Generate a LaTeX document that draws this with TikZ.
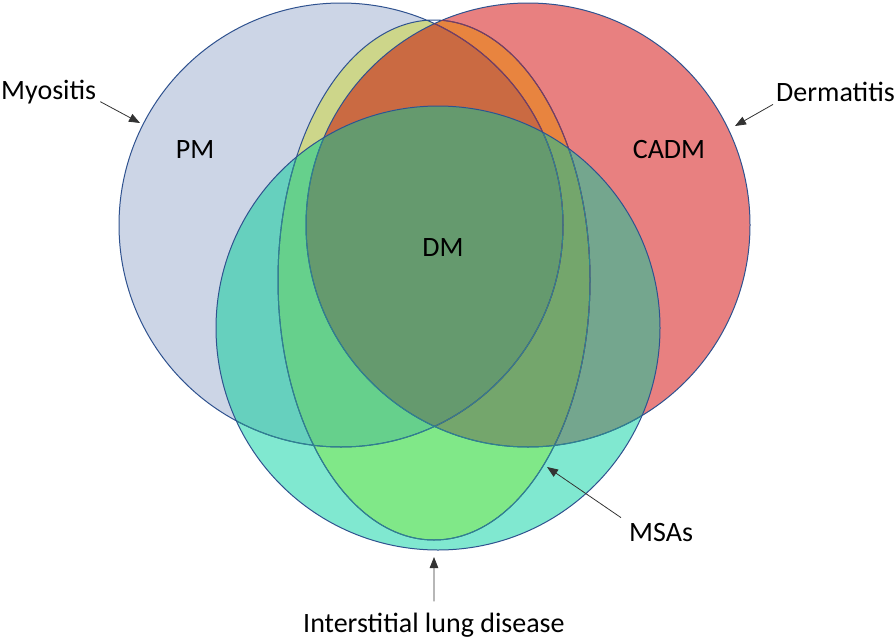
\documentclass[tikz,border=0pt]{standalone}
\usepackage{fontspec}
\setmainfont{Carlito}
\usetikzlibrary{arrows.meta,calc}

\definecolor{rimblue}{HTML}{2F528F}
\definecolor{rimteal}{HTML}{2E8390}
\definecolor{rimwine}{HTML}{7E3A5C}
% single sets
\definecolor{myoc}{HTML}{CCD5E6}
\definecolor{derc}{HTML}{E88080}
\definecolor{ildc}{HTML}{80E8D0}
% overlaps
\definecolor{msamyoc}{HTML}{CDD68A}
\definecolor{msaderc}{HTML}{E8843F}
\definecolor{msamyoderc}{HTML}{CA6A42}
\definecolor{ildmyoc}{HTML}{66D0BE}
\definecolor{ildderc}{HTML}{74A68E}
\definecolor{ildmsac}{HTML}{80E888}
\definecolor{ildmyomsac}{HTML}{66D08C}
\definecolor{ilddermsac}{HTML}{74A66C}
\definecolor{allc}{HTML}{659A6E}

\newcommand{\myopath}{(341,225) circle[radius=222]}
\newcommand{\derpath}{(528,225) circle[radius=222]}
\newcommand{\ildpath}{(438,328) circle[radius=222]}
\newcommand{\msapath}{(434,280) ellipse[x radius=156, y radius=260]}

\begin{document}
\begin{tikzpicture}[x=1pt,y=-1pt]
  \tikzset{rim/.style     = {line width=1pt},
           tag/.style     = {inner sep=0pt, font=\fontsize{28}{34}\selectfont},
           pointer/.style = {draw=black!80, line width=0.8pt,
                             -{Triangle[length=11pt,width=8.5pt]}}}
  \useasboundingbox (0,0) rectangle (896,640);

  %%% FILLS %%%
  \fill[myoc] \myopath;
  \fill[derc] \derpath;
  \begin{scope}
    \clip \myopath;
    \fill[msamyoc] \msapath;
  \end{scope}
  \begin{scope}
    \clip \derpath;
    \fill[msaderc] \msapath;
  \end{scope}
  \begin{scope}
    \clip \myopath; \clip \derpath;
    \fill[msamyoderc] \msapath;
  \end{scope}
  % ILD on top
  \fill[ildc] \ildpath;
  \begin{scope}
    \clip \ildpath;
    \fill[ildmyoc] \myopath;
    \fill[ildderc] \derpath;
    \fill[ildmsac] \msapath;
    \begin{scope}
      \clip \myopath;
      \fill[ildmyomsac] \msapath;
    \end{scope}
    \begin{scope}
      \clip \derpath;
      \fill[ilddermsac] \msapath;
    \end{scope}
    \begin{scope}
      \clip \myopath; \clip \derpath;
      \fill[allc] \msapath;
    \end{scope}
  \end{scope}

  %%% OUTLINES %%%
  \draw[rim, rimblue] \myopath \derpath \msapath;
  \begin{scope}
    \clip \derpath;
    \draw[rim, rimwine] \myopath \msapath;
  \end{scope}
  \begin{scope}
    \clip \ildpath;
    \draw[rim, rimteal] \myopath \derpath \msapath;
  \end{scope}
  \draw[rim, rimblue] \ildpath;

  %%% LABELS %%%
  \node[tag, anchor=base]      (pm)   at (195,158) {PM};
  \node[tag, anchor=base]      (cadm) at (669,158) {CADM};
  \node[tag, anchor=base]      (dm)   at (443,256) {DM};
  \node[tag, anchor=base west] (myo)  at (1,99)    {Myositis};
  \node[tag, anchor=base west] (der)  at (776,101) {Dermatitis};
  \node[tag, anchor=base west] (msa)  at (629,541) {MSAs};
  \node[tag, anchor=base west] (ild)  at (303,632) {Interstitial lung disease};

  \coordinate (myotip) at (140,123);
  \coordinate (dertip) at (735,126);
  \coordinate (msatip) at (547,467);
  \coordinate (ildtip) at (434,557);

  \draw[pointer] ($(myo.south east)+(4,-2)$) -- (myotip);
  \draw[pointer] ($(der.south west)+(-3,3)$) -- (dertip);
  \draw[pointer] ($(msa.north west)+(-8,-5)$) -- (msatip);
  \draw[pointer] ($(ild.north)+(0,-11)$) -- (ildtip);
\end{tikzpicture}
\end{document}
